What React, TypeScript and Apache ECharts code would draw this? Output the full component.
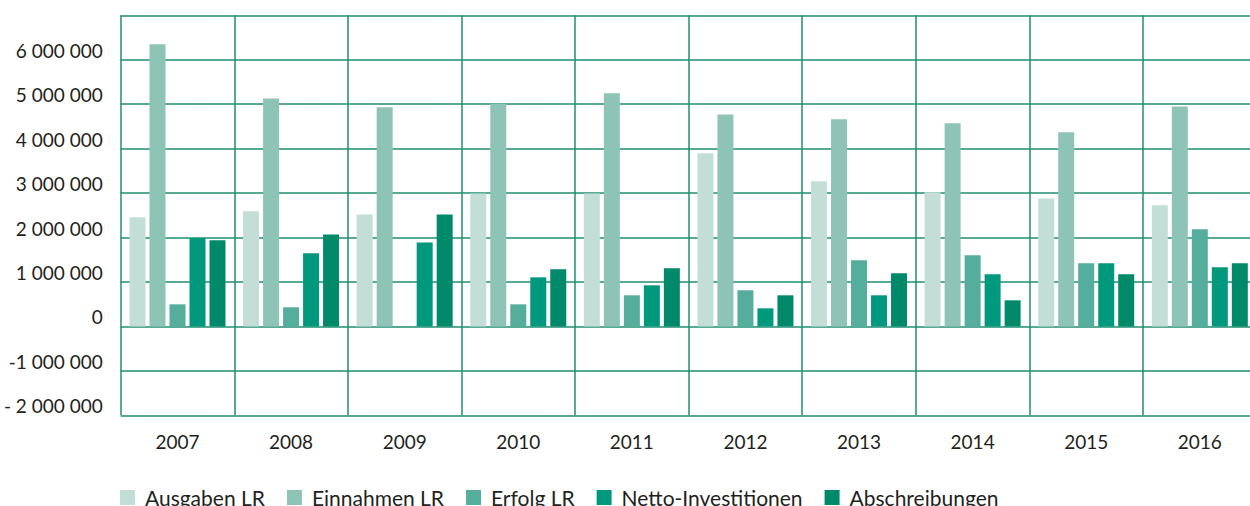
import React, { useEffect, useRef } from "react";
import * as echarts from "echarts";

const years = ["2007", "2008", "2009", "2010", "2011", "2012", "2013", "2014", "2015", "2016"];
const seriesNames = ["Ausgaben LR", "Einnahmen LR", "Erfolg LR", "Netto-Investitionen", "Abschreibungen"];
const ausgaben = [2455000, 2590000, 2520000, 2990000, 2990000, 3895000, 3265000, 3018000, 2880000, 2725000];
const einnahmen = [6350000, 5130000, 4930000, 5010000, 5245000, 4770000, 4660000, 4570000, 4370000, 4950000];
const erfolg = [497000, 430000, 0, 497000, 700000, 813000, 1487000, 1600000, 1420000, 2185000];
const netto = [1990000, 1645000, 1890000, 1105000, 925000, 407000, 700000, 1172000, 1420000, 1330000];
const abschreibungen = [1940000, 2070000, 2520000, 1285000, 1307000, 700000, 1195000, 587000, 1172000, 1420000];
const colors = ["#c3ded6", "#8dc4b5", "#55ae9b", "#00997d", "#008a6a"];
const yMin = -2000000;
const yMax = 7000000;
const yInterval = 1000000;
const yTickLabels = [
  "- 2 000 000",
  "-1 000 000",
  "0",
  "1 000 000",
  "2 000 000",
  "3 000 000",
  "4 000 000",
  "5 000 000",
  "6 000 000",
  "",
];

const seriesData = [ausgaben, einnahmen, erfolg, netto, abschreibungen];

export default function App() {
  const ref = useRef<HTMLDivElement>(null);
  useEffect(() => {
    if (!ref.current) return;
    document.body.style.overflow = "hidden";
    const chart = echarts.init(ref.current, undefined, { renderer: "svg" });
    const gridColor = "#1f8f72";
    chart.setOption({
      animation: false,
      textStyle: { fontFamily: "Lato" },
      grid: { left: 120.7, right: 0.4, top: 15.3, bottom: 90.7, containLabel: false },
      legend: {
        left: 115,
        top: 482,
        itemWidth: 15,
        itemHeight: 15,
        itemGap: 22,
        icon: "rect",
        data: seriesNames,
        textStyle: { fontFamily: "Lato", fontSize: 21, color: "#231f20", padding: [0, 0, 0, 5] },
      },
      xAxis: {
        type: "category",
        data: years,
        boundaryGap: true,
        axisLine: { show: false },
        axisTick: { show: false },
        splitLine: { show: true, lineStyle: { color: gridColor, width: 1.5 } },
        axisLabel: { fontFamily: "Lato", fontSize: 19, color: "#231f20", margin: 17 },
      },
      yAxis: {
        type: "value",
        min: yMin,
        max: yMax,
        interval: yInterval,
        axisLine: { show: false },
        axisTick: { show: false },
        splitLine: { show: true, lineStyle: { color: gridColor, width: 1.5 } },
        axisLabel: {
          fontFamily: "Lato",
          fontSize: 19,
          color: "#231f20",
          margin: 18,
          verticalAlign: "bottom",
          formatter: (v: number) => yTickLabels[Math.round((v - yMin) / yInterval)] ?? "",
        },
      },
      series: seriesNames.map((name, i) => ({
        name,
        type: "bar",
        data: seriesData[i],
        barWidth: 16,
        barGap: "25%",
        itemStyle: { color: colors[i] },
      })),
    });
    return () => chart.dispose();
  }, []);
  return (
    <div
      ref={ref}
      style={{ position: "fixed", left: 0, top: 0, width: 1257, height: 506, background: "#fff" }}
    />
  );
}
